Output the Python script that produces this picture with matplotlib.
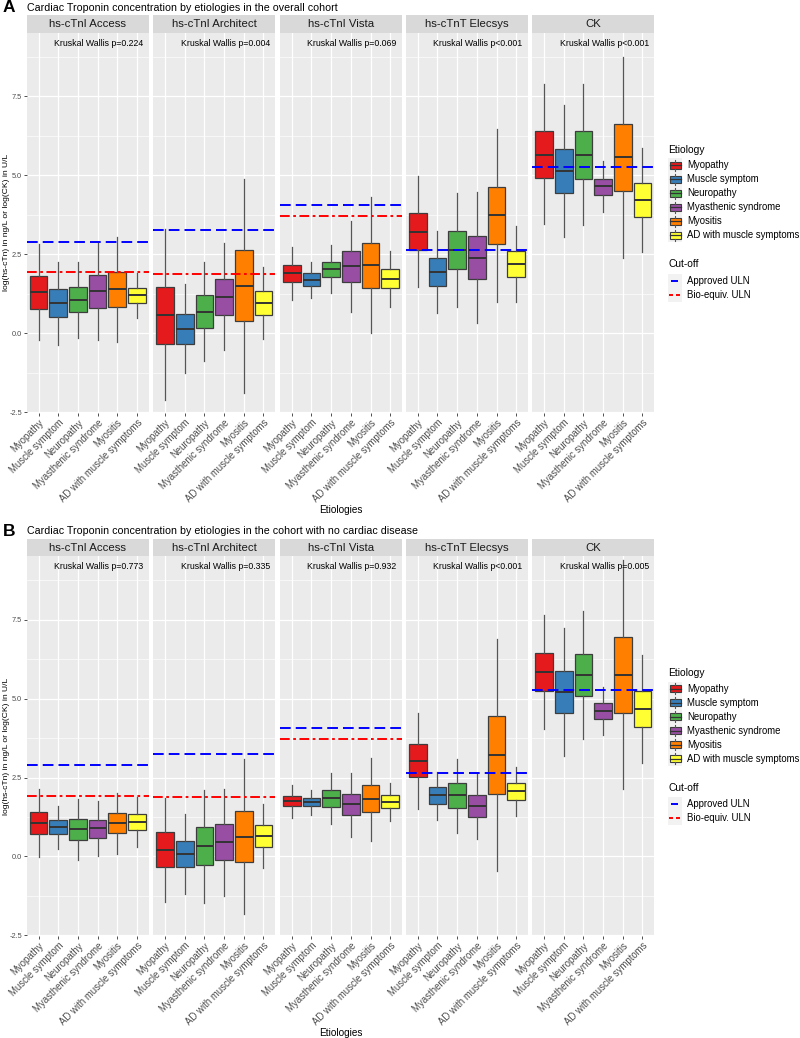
import matplotlib
matplotlib.use('Agg')
import matplotlib.pyplot as plt
from matplotlib.patches import Rectangle

plt.rcParams['font.family'] = ['Liberation Sans', 'DejaVu Sans']

W, H = 800, 1038

etiologies = ['Myopathy', 'Muscle symptom', 'Neuropathy', 'Myasthenic syndrome',
              'Myositis', 'AD with muscle symptoms']
colors = ['#E41A1C', '#377EB8', '#4DAF4A', '#984EA3', '#FF7F00', '#FFFF33']
assays = ['hs-cTnI Access', 'hs-cTnI Architect', 'hs-cTnI Vista', 'hs-cTnT Elecsys', 'CK']

# box stats per etiology: (whisker low, q1, median, q3, whisker high)
a_access = [(-0.23, 0.78, 1.29, 1.81, 2.82), (-0.39, 0.51, 0.95, 1.39, 2.27),
            (-0.14, 0.66, 1.05, 1.46, 2.25), (-0.23, 0.81, 1.33, 1.85, 2.85),
            (-0.27, 0.84, 1.39, 1.93, 3.06), (0.47, 0.95, 1.20, 1.42, 1.92)]
a_architect = [(-2.13, -0.33, 0.59, 1.47, 3.29), (-1.27, -0.34, 0.14, 0.60, 1.55),
               (-0.87, 0.16, 0.68, 1.22, 2.25), (-0.53, 0.58, 1.16, 1.72, 2.86),
               (-1.90, 0.39, 1.50, 2.64, 4.88), (-0.19, 0.56, 0.95, 1.33, 2.09)]
a_vista = [(1.05, 1.61, 1.90, 2.17, 2.74), (1.11, 1.50, 1.70, 1.90, 2.27),
           (1.27, 1.77, 2.03, 2.27, 2.79), (0.66, 1.62, 2.13, 2.60, 3.56),
           (0.00, 1.43, 2.15, 2.87, 4.30), (0.84, 1.43, 1.73, 2.03, 2.61)]
a_elecsys = [(1.46, 2.64, 3.21, 3.80, 4.98), (0.65, 1.51, 1.94, 2.37, 3.24),
             (0.82, 2.03, 2.63, 3.23, 4.43), (0.32, 1.71, 2.38, 3.07, 4.46),
             (1.00, 2.83, 3.73, 4.63, 6.46), (0.98, 1.78, 2.18, 2.59, 3.40)]
a_ck = [(3.45, 4.91, 5.66, 6.40, 7.88), (3.06, 4.45, 5.14, 5.82, 7.22),
        (3.42, 4.90, 5.65, 6.39, 7.88), (3.85, 4.38, 4.65, 4.90, 5.45),
        (2.37, 4.49, 5.58, 6.62, 8.75), (2.58, 3.67, 4.22, 4.77, 5.86)]

b_access = [(-0.02, 0.70, 1.06, 1.42, 2.13), (0.24, 0.70, 0.93, 1.14, 1.60),
            (-0.11, 0.53, 0.87, 1.18, 1.83), (0.00, 0.59, 0.89, 1.17, 1.77),
            (0.08, 0.73, 1.06, 1.37, 2.02), (0.30, 0.83, 1.09, 1.35, 1.87)]
b_architect = [(-1.45, -0.34, 0.22, 0.76, 1.85), (-1.18, -0.34, 0.09, 0.50, 1.35),
               (-1.48, -0.26, 0.33, 0.92, 2.12), (-1.25, -0.10, 0.47, 1.03, 2.15),
               (-1.82, -0.17, 0.63, 1.45, 3.10), (-0.36, 0.31, 0.66, 1.01, 1.67)]
b_vista = [(1.22, 1.59, 1.76, 1.93, 2.25), (1.32, 1.59, 1.71, 1.84, 2.10),
           (1.04, 1.57, 1.85, 2.12, 2.65), (0.61, 1.30, 1.65, 1.97, 2.65),
           (0.49, 1.40, 1.82, 2.25, 3.13), (1.12, 1.52, 1.74, 1.95, 2.33)]
b_elecsys = [(1.50, 2.52, 3.03, 3.56, 4.56), (1.17, 1.67, 1.95, 2.19, 2.68),
             (0.75, 1.55, 1.94, 2.34, 3.10), (0.56, 1.25, 1.59, 1.95, 2.64),
             (-0.47, 1.99, 3.22, 4.44, 6.89), (1.28, 1.80, 2.07, 2.33, 2.83)]
b_ck = [(4.03, 5.25, 5.85, 6.45, 7.65), (3.18, 4.53, 5.21, 5.87, 7.23),
        (3.71, 5.08, 5.76, 6.43, 7.79), (3.84, 4.34, 4.60, 4.87, 5.37),
        (2.15, 4.55, 5.76, 6.96, 9.40), (2.96, 4.09, 4.67, 5.25, 6.38)]

approved_uln = [2.89, 3.26, 4.07, 2.64, 5.28]
bioequiv_uln = [1.93, 1.88, 3.72, None, None]

pvals_a = ['p=0.224', 'p=0.004', 'p=0.069', 'p<0.001', 'p<0.001']
pvals_b = ['p=0.773', 'p=0.335', 'p=0.932', 'p<0.001', 'p=0.005']

title_a = 'Cardiac Troponin concentration by etiologies in the overall cohort'
title_b = 'Cardiac Troponin concentration by etiologies in the cohort with no cardiac disease'

y_ticks = [-2.5, 0.0, 2.5, 5.0, 7.5]
y_minor = [-1.25, 1.25, 3.75, 6.25, 8.75]

fig = plt.figure(figsize=(W / 100, H / 100), dpi=100)

# overlay axes in pixel coordinates for titles and legends
ov = fig.add_axes([0, 0, 1, 1], zorder=10)
ov.set_xlim(0, W)
ov.set_ylim(H, 0)
ov.axis('off')

panel_x = [26.7, 153.3, 280, 406, 532.3]
panel_w = 122
panel_h = 380
strip_h = 17.3
blue_dash = (0, (5.5, 2.6))
red_dash = (0, (5.0, 1.8, 1.4, 1.8))


def rect(x, y, w, h):
    return [x / W, 1 - (y + h) / H, w / W, h / H]


def draw_block(top, letter, title, data, pvals):
    ov.text(3, top - 25, letter, fontsize=12.5, fontweight='bold', va='center', ha='left')
    ov.text(27, top - 25, title, fontsize=7.7, va='center', ha='left')
    for i, (name, stats) in enumerate(zip(assays, data)):
        ax = fig.add_axes(rect(panel_x[i], top, panel_w, panel_h))
        ax.set_facecolor('#EBEBEB')
        for s in ax.spines.values():
            s.set_visible(False)

        bx = [dict(whislo=s[0], q1=s[1], med=s[2], q3=s[3], whishi=s[4], fliers=[])
              for s in stats]
        parts = ax.bxp(bx, positions=range(1, 7), widths=0.9, patch_artist=True,
                       showfliers=False, showcaps=False, manage_ticks=False,
                       boxprops=dict(edgecolor='#3d3d3d', linewidth=0.9),
                       whiskerprops=dict(color='#555555', linewidth=0.9),
                       medianprops=dict(color='#333333', linewidth=1.4))
        for patch, c in zip(parts['boxes'], colors):
            patch.set_facecolor(c)

        ax.set_xlim(0.4, 6.6)
        ax.set_ylim(-2.52, 9.52)
        ax.set_yticks(y_ticks)
        ax.set_yticks(y_minor, minor=True)
        ax.set_xticks(range(1, 7))
        ax.grid(which='major', color='white', lw=0.9)
        ax.grid(which='minor', axis='y', color='white', lw=0.45)
        ax.tick_params(axis='y', which='minor', length=0)
        ax.tick_params(which='major', length=2.2, width=0.6, color='#333333',
                       labelcolor='#4D4D4D', labelsize=5.3, pad=1.2)
        ax.set_axisbelow(True)
        if i == 0:
            ax.set_yticklabels([f'{t:.1f}' for t in y_ticks])
        else:
            ax.set_yticklabels([])
            ax.tick_params(axis='y', length=0)
        ax.set_xticklabels(etiologies, rotation=45, ha='right', va='top',
                           rotation_mode='anchor', fontsize=6.9, color='#4D4D4D')

        ax.axhline(approved_uln[i], color='#0000FF', lw=1.4, ls=blue_dash, zorder=5)
        if bioequiv_uln[i] is not None:
            ax.axhline(bioequiv_uln[i], color='#FF0000', lw=1.4, ls=red_dash, zorder=5)

        ax.text(1 - 5.4 / panel_w, 1 - 10.5 / panel_h, 'Kruskal Wallis ' + pvals[i],
                transform=ax.transAxes, ha='right', va='center', fontsize=6.3)

        sax = fig.add_axes(rect(panel_x[i], top - strip_h, panel_w, strip_h))
        sax.set_facecolor('#D9D9D9')
        sax.set_xticks([])
        sax.set_yticks([])
        for s in sax.spines.values():
            s.set_visible(False)
        sax.text(0.5, 0.48, name, ha='center', va='center', fontsize=8.2, color='#1A1A1A',
                 transform=sax.transAxes)

    ov.text(6.5, top + panel_h / 2, 'log(hs-cTn) in ng/L or log(CK) in U/L', rotation=90,
            ha='center', va='center', fontsize=6.1)
    ov.text(340.5, top + 477, 'Etiologies', ha='center', va='center', fontsize=7.2)

    # Etiology legend
    lx = 668.3
    ov.text(lx, top + 117.5, 'Etiology', fontsize=7.4, va='center', ha='left')
    ks = 14
    for j, (lab, c) in enumerate(zip(etiologies, colors)):
        cy = top + 132.6 + j * 14.0
        ov.add_patch(Rectangle((lx, cy - ks / 2), ks, ks, facecolor='#F2F2F2', edgecolor='none'))
        bw, bh = ks * 0.75, ks * 0.5
        ov.add_patch(Rectangle((lx + (ks - bw) / 2, cy - bh / 2), bw, bh, facecolor=c,
                               edgecolor='#3d3d3d', lw=0.8))
        ov.plot([lx + ks * 0.125, lx + ks * 0.875], [cy, cy], color='#333333', lw=0.9)
        ov.plot([lx + ks / 2] * 2, [cy - ks * 0.4, cy - bh / 2], color='#555555', lw=0.8)
        ov.plot([lx + ks / 2] * 2, [cy + bh / 2, cy + ks * 0.4], color='#555555', lw=0.8)
        ov.text(lx + 18.5, cy, lab, fontsize=6.9, va='center', ha='left')

    # Cut-off legend
    ov.text(lx, top + 231.7, 'Cut-off', fontsize=7.4, va='center', ha='left')
    for j, (lab, c) in enumerate(zip(['Approved ULN', 'Bio-equiv. ULN'], ['#0000FF', '#FF0000'])):
        cy = top + 248.4 + j * 14.0
        ov.add_patch(Rectangle((lx, cy - ks / 2), ks, ks, facecolor='#F2F2F2', edgecolor='none'))
        if j == 0:
            ov.plot([lx + 2.5, lx + 9.5], [cy, cy], color=c, lw=1.4, solid_capstyle='butt')
        else:
            ov.plot([lx + 1, lx + 5], [cy, cy], color=c, lw=1.4, solid_capstyle='butt')
            ov.plot([lx + 8, lx + 12], [cy, cy], color=c, lw=1.4, solid_capstyle='butt')
        ov.text(lx + 18.5, cy, lab, fontsize=6.9, va='center', ha='left')


draw_block(32.7, 'A', title_a, [a_access, a_architect, a_vista, a_elecsys, a_ck], pvals_a)
draw_block(556.0, 'B', title_b, [b_access, b_architect, b_vista, b_elecsys, b_ck], pvals_b)

fig.savefig('out.png', dpi=100)
